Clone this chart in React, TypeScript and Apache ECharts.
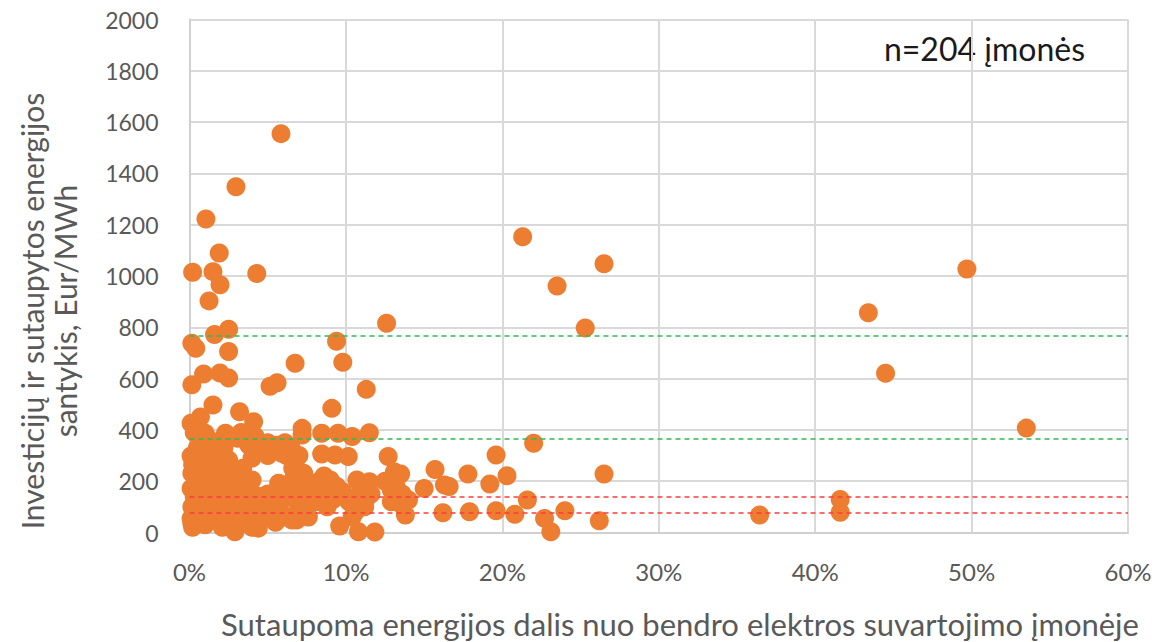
import React, { useEffect, useRef } from "react";
import * as echarts from "echarts";

// x: share of saved energy (%), y: investment / saved energy ratio (Eur/MWh)
const highPoints: [number, number][] = [
  [5.85, 1555], [2.97, 1348], [1.05, 1222], [21.3, 1153], [1.9, 1090], [26.5, 1048],
  [0.2, 1015], [1.5, 1017], [4.3, 1010], [49.7, 1027], [1.95, 966], [23.5, 961],
  [1.25, 903], [43.4, 857], [12.6, 816], [25.3, 797], [2.5, 792], [1.6, 772],
  [9.4, 746], [0.15, 738], [0.4, 718], [2.5, 706], [9.8, 664], [6.75, 660],
  [44.5, 621], [0.9, 618], [1.95, 622], [2.5, 602], [0.15, 576], [5.15, 570],
  [5.6, 584], [11.3, 558], [1.5, 497], [9.1, 484], [3.2, 471], [4.1, 432],
  [0.7, 450], [0.1, 426], [53.5, 407], [7.2, 406],
];

const midPoints: [number, number][] = [
  [8.45, 387], [9.5, 387], [10.4, 374], [11.5, 389], [22.0, 348], [12.7, 296],
  [13.1, 236], [12.9, 166], [13.45, 114], [13.8, 68], [19.6, 302], [26.5, 228],
  [20.3, 221], [17.8, 228], [15.7, 246], [19.2, 189], [16.3, 185], [16.6, 179],
  [15.0, 172], [14.0, 127], [21.6, 127], [16.2, 77], [17.9, 81], [19.6, 85],
  [20.8, 71], [24.0, 85], [22.7, 55], [23.1, 3], [26.2, 46], [36.45, 68],
  [41.6, 129], [41.6, 79], [13.5, 228], [13.9, 127],
];

const rightClusterPoints: [number, number][] = [
  [8.45, 306], [9.3, 302], [10.15, 296], [10.7, 205], [11.5, 198], [9.0, 205],
  [9.8, 159], [10.7, 140], [11.3, 133], [10.6, 81], [9.6, 25], [10.8, 3],
  [11.85, 2], [6.85, 49], [7.5, 107], [8.1, 120], [6.6, 205], [7.3, 231],
  [8.3, 200], [8.7, 150], [9.2, 130], [8.8, 100], [9.4, 180], [8.6, 220],
  [10.2, 120], [11.0, 170], [11.6, 150], [10.4, 60], [11.2, 100],
  [12.5, 200], [13.2, 180], [12.9, 120], [13.6, 150],
];

const leftClusterPoints: [number, number][] = [
  [1.0, 387], [2.3, 387], [3.1, 367], [4.2, 374], [0.1, 298], [1.2, 315],
  [2.5, 283], [5.3, 322], [5.9, 309], [6.8, 283], [0.15, 231], [1.65, 244],
  [3.1, 218], [0.1, 172], [1.0, 166], [2.5, 179], [4.0, 205], [5.7, 192],
  [6.55, 179], [0.15, 100], [1.65, 114], [3.1, 120], [4.4, 100], [5.7, 114],
  [0.15, 36], [1.85, 49], [2.9, 3], [4.2, 42], [5.3, 62], [6.55, 49],
  [0.1, 55], [0.5, 40], [4.4, 17],
  [0.3, 390], [0.5, 330], [0.2, 265], [0.6, 200], [0.3, 140], [0.6, 120], [0.4, 80], [0.2, 20],
  [0.9, 350], [1.3, 360], [0.8, 280], [1.4, 290], [1.1, 230], [0.9, 140], [1.3, 190],
  [1.1, 90], [1.4, 60], [1.0, 30], [1.5, 150],
  [1.8, 350], [2.2, 330], [1.9, 270], [2.1, 240], [1.7, 190], [2.2, 200], [2.0, 130],
  [2.3, 90], [1.8, 80], [2.4, 40], [2.1, 20],
  [2.7, 370], [3.3, 390], [2.8, 230], [3.4, 250], [2.6, 150], [3.3, 160], [2.8, 80],
  [3.4, 60], [3.0, 40],
  [3.8, 340], [4.4, 330], [4.0, 290], [3.7, 200], [4.0, 150], [4.5, 140], [3.8, 90],
  [4.6, 70], [4.0, 20],
  [5.0, 350], [5.6, 340], [6.1, 350], [5.0, 300], [6.2, 300], [5.0, 150], [5.5, 160],
  [6.0, 130], [5.2, 100], [5.8, 80], [6.2, 60], [5.5, 40],
  [6.5, 330], [7.0, 300], [7.2, 380], [6.6, 250], [7.0, 200], [7.6, 180], [6.8, 130],
  [7.2, 90], [6.9, 80], [7.8, 140], [7.6, 60],
];

const greenLevels = [767, 367];
const redLevels = [141, 77];

const xTicks = { min: 0, max: 60, interval: 10 };
const yTicks = { min: 0, max: 2000, interval: 200 };

const sampleLabel = "n=204 įmonės";
const xTitle = "Sutaupoma energijos dalis nuo bendro elektros suvartojimo įmonėje";
const yTitleLines = ["Investicijų ir sutaupytos energijos", "santykis, Eur/MWh"];

const FONT = "Lato, 'Open Sans', sans-serif";

export default function App() {
  const ref = useRef<HTMLDivElement>(null);

  useEffect(() => {
    document.body.style.margin = "0";
    if (!ref.current) return;
    const chart = echarts.init(ref.current, undefined, { renderer: "svg" });
    const allPoints = [...highPoints, ...midPoints, ...rightClusterPoints, ...leftClusterPoints];

    const markData = [
      ...greenLevels.map((v) => ({ yAxis: v, lineStyle: { color: "#2dbb55" } })),
      ...redLevels.map((v) => ({ yAxis: v, lineStyle: { color: "#ff3b3b" } })),
    ];

    chart.setOption({
      animation: false,
      textStyle: { fontFamily: FONT },
      grid: { left: 189.5, right: 32, top: 19.5, bottom: 109.5, containLabel: false },
      xAxis: {
        type: "value",
        min: xTicks.min,
        max: xTicks.max,
        interval: xTicks.interval,
        axisLine: { show: true, lineStyle: { color: "#d0d0d0", width: 2 } },
        axisTick: { show: false },
        splitLine: { show: true, lineStyle: { color: "#d9d9d9", width: 2 } },
        axisLabel: {
          formatter: "{value}%",
          color: "#595959",
          fontSize: 24,
          fontFamily: FONT,
          margin: 27,
        },
      },
      yAxis: {
        type: "value",
        min: yTicks.min,
        max: yTicks.max,
        interval: yTicks.interval,
        axisLine: { show: true, lineStyle: { color: "#d0d0d0", width: 2 } },
        axisTick: { show: false },
        splitLine: { show: true, lineStyle: { color: "#d9d9d9", width: 2 } },
        axisLabel: {
          formatter: (v: number) => String(v),
          color: "#595959",
          fontSize: 23,
          fontFamily: FONT,
          margin: 31,
        },
      },
      series: [
        {
          type: "scatter",
          data: allPoints,
          symbol: "circle",
          symbolSize: 19,
          itemStyle: { color: "#ed7d31", opacity: 1 },
          silent: true,
          markLine: {
            silent: true,
            symbol: ["none", "none"],
            label: { show: false },
            lineStyle: { type: [5, 4], width: 1.5 },
            data: markData,
            z: 10,
          },
        },
      ],
      graphic: [
        {
          type: "text",
          x: 1085,
          y: 48,
          style: {
            text: sampleLabel,
            fill: "#1a1a1a",
            font: `32px ${FONT}`,
            textAlign: "right",
            textVerticalAlign: "middle",
          },
        },
        {
          type: "text",
          x: 680,
          y: 624,
          style: {
            text: xTitle,
            fill: "#595959",
            font: `31px ${FONT}`,
            textAlign: "center",
            textVerticalAlign: "middle",
          },
        },
        ...yTitleLines.map((line, i) => ({
          type: "text",
          x: 32 + i * 33,
          y: 311,
          rotation: Math.PI / 2,
          style: {
            text: line,
            fill: "#595959",
            font: `30px ${FONT}`,
            textAlign: "center",
            textVerticalAlign: "middle",
          },
        })),
      ],
    });

    return () => chart.dispose();
  }, []);

  return <div ref={ref} style={{ width: 1160, height: 642 }} />;
}
